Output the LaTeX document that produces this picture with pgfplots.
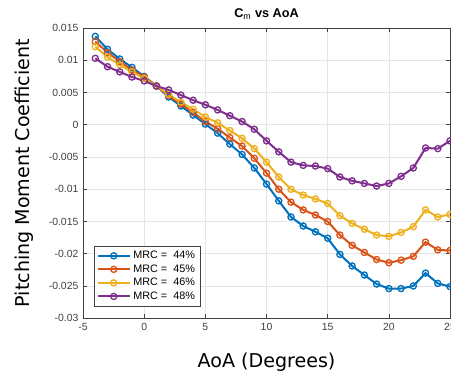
\documentclass[border=0pt]{standalone}
\usepackage{pgfplots}
\pgfplotsset{compat=1.18}
\usepackage{fontspec}
\setmainfont{Liberation Sans}
\newfontfamily\labfont{DejaVu Sans}
\definecolor{mblue}{rgb}{0,0.447,0.741}
\definecolor{morange}{rgb}{0.85,0.325,0.098}
\definecolor{myellow}{rgb}{0.929,0.694,0.125}
\definecolor{mpurple}{rgb}{0.494,0.184,0.556}
\definecolor{tickgray}{rgb}{0.25,0.25,0.25}
\begin{document}
\begin{tikzpicture}
\begin{axis}[
  name=ax,
  width=275pt, height=217.5pt, scale only axis,
  xmin=-5, xmax=25, ymin=-0.03, ymax=0.015,
  xtick={-5,0,5,10,15,20,25},
  ytick={-0.03,-0.025,-0.02,-0.015,-0.01,-0.005,0,0.005,0.01,0.015},
  yticklabel style={/pgf/number format/fixed,/pgf/number format/precision=3},
  /pgf/number format/assume math mode=true,
  scaled y ticks=false,
  tick label style={font=\fontsize{7.8}{9}\selectfont, text=tickgray},
  tick align=inside, tick style={tickgray, line width=0.4pt}, major tick length=3pt,
  axis line style={tickgray, line width=0.5pt},
  grid=major, grid style={gray!20, line width=0.4pt},
  title={\bfseries C$_{\mathrm m}$ vs AoA},
  title style={font=\fontsize{9.5}{10}\selectfont, yshift=-3pt},
  xlabel={\labfont AoA (Degrees)},
  ylabel={\labfont Pitching Moment Coefficient},
  label style={font=\fontsize{14.3}{16}\selectfont},
  xlabel style={yshift=-10pt},
  ylabel style={yshift=4.5pt},
  every axis plot/.append style={line width=1.5pt, mark=o, mark size=2.3pt, mark options={line width=1pt}},
  legend image code/.code={\draw[mark repeat=2,mark phase=2] plot coordinates {(0cm,0cm) (0.42cm,0cm) (0.84cm,0cm)};},
  legend style={at={(0.03,0.04)}, anchor=south west, font=\fontsize{8.1}{9.5}\selectfont, draw=tickgray, line width=0.5pt, inner sep=1.8pt, row sep=-1pt},
  legend cell align=left,
]
\addplot[color=mblue] coordinates {
(-4,0.0137) (-3,0.0117) (-2,0.0102) (-1,0.0089) (0,0.0075) (1,0.0060) (2,0.0043) (3,0.0029) (4,0.0015) (5,0.0001)
(6,-0.0013) (7,-0.0030) (8,-0.0046) (9,-0.0067) (10,-0.0092) (11,-0.0118) (12,-0.0143) (13,-0.0157) (14,-0.0166) (15,-0.0176)
(16,-0.0201) (17,-0.0219) (18,-0.0233) (19,-0.0247) (20,-0.0254) (21,-0.0254) (22,-0.0250) (23,-0.0230) (24,-0.0246) (25,-0.0251)};
\addlegendentry{MRC =\ \ 44\%}
\addplot[color=morange] coordinates {
(-4,0.0129) (-3,0.0112) (-2,0.0098) (-1,0.0085) (0,0.0074) (1,0.0060) (2,0.0045) (3,0.0032) (4,0.0019) (5,0.0005)
(6,-0.0006) (7,-0.0020) (8,-0.0033) (9,-0.0052) (10,-0.0075) (11,-0.0100) (12,-0.0120) (13,-0.0132) (14,-0.0140) (15,-0.0150)
(16,-0.0171) (17,-0.0187) (18,-0.0198) (19,-0.0209) (20,-0.0214) (21,-0.0210) (22,-0.0204) (23,-0.0182) (24,-0.0194) (25,-0.0195)};
\addlegendentry{MRC =\ \ 45\%}
\addplot[color=myellow] coordinates {
(-4,0.0121) (-3,0.0105) (-2,0.0093) (-1,0.0082) (0,0.0072) (1,0.0060) (2,0.0047) (3,0.0035) (4,0.0024) (5,0.0012)
(6,0.0003) (7,-0.0009) (8,-0.0021) (9,-0.0037) (10,-0.0058) (11,-0.0081) (12,-0.0100) (13,-0.0109) (14,-0.0115) (15,-0.0122)
(16,-0.0141) (17,-0.0153) (18,-0.0162) (19,-0.0171) (20,-0.0173) (21,-0.0167) (22,-0.0158) (23,-0.0132) (24,-0.0143) (25,-0.0139)};
\addlegendentry{MRC =\ \ 46\%}
\addplot[color=mpurple] coordinates {
(-4,0.0103) (-3,0.0090) (-2,0.0082) (-1,0.0074) (0,0.0068) (1,0.0060) (2,0.0054) (3,0.0046) (4,0.0038) (5,0.0031)
(6,0.0023) (7,0.0014) (8,0.0005) (9,-0.0007) (10,-0.0025) (11,-0.0042) (12,-0.0058) (13,-0.0063) (14,-0.0064) (15,-0.0068)
(16,-0.0081) (17,-0.0087) (18,-0.0091) (19,-0.0095) (20,-0.0091) (21,-0.0080) (22,-0.0067) (23,-0.0036) (24,-0.0037) (25,-0.0025)};
\addlegendentry{MRC =\ \ 48\%}
\end{axis}
\pgfresetboundingbox
\path ([xshift=-62.25pt,yshift=-43.5pt]ax.south west) rectangle ([xshift=0.75pt,yshift=21pt]ax.north east);
\end{tikzpicture}
\end{document}
